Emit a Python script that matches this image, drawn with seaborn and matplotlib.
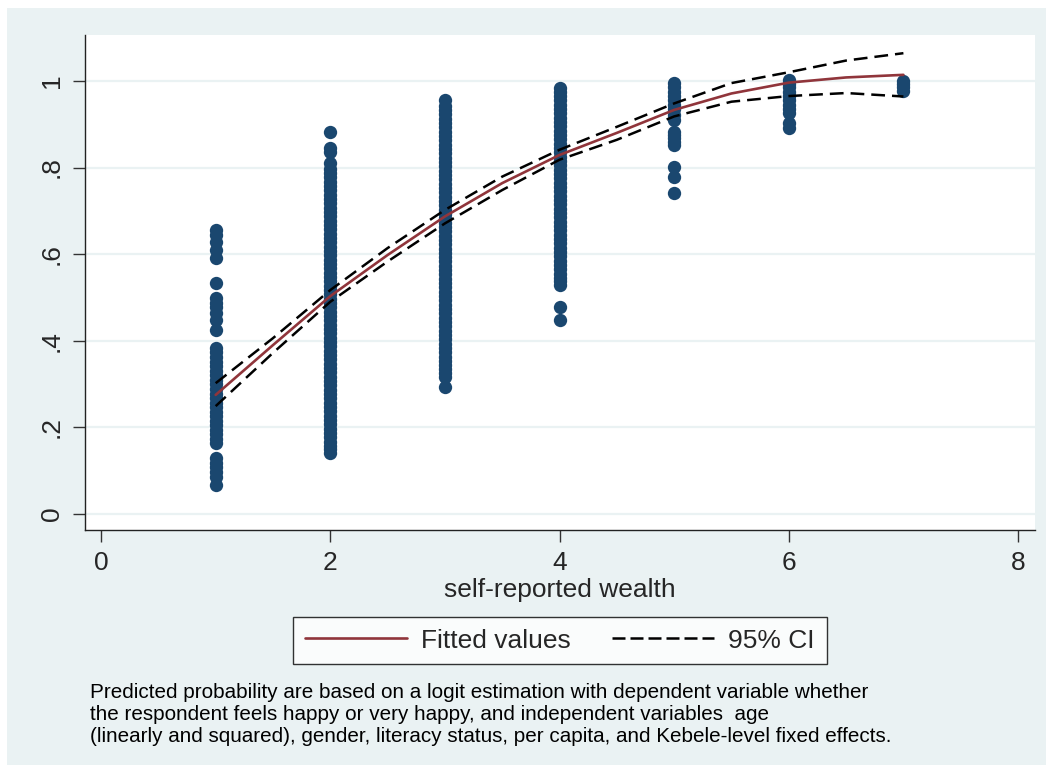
import matplotlib
matplotlib.use("Agg")
import matplotlib.pyplot as plt
from matplotlib.lines import Line2D
from matplotlib.patches import Rectangle
import seaborn as sns
import pandas as pd

# Predicted probability of feeling happy, by self-reported wealth level
wealth_1 = [0.656, 0.644, 0.629, 0.610, 0.591, 0.533, 0.499, 0.487, 0.479, 0.464,
            0.448, 0.425, 0.383, 0.373, 0.362, 0.352, 0.341, 0.331, 0.320, 0.310,
            0.299, 0.289, 0.278, 0.268, 0.257, 0.247, 0.236, 0.226, 0.215, 0.205,
            0.194, 0.184, 0.174, 0.164, 0.129, 0.118, 0.108, 0.097, 0.086, 0.067]
wealth_2 = [0.883, 0.845, 0.835, 0.810, 0.797, 0.787, 0.777, 0.767, 0.757, 0.747,
            0.737, 0.727, 0.717, 0.707, 0.697, 0.687, 0.677, 0.667, 0.657, 0.647,
            0.637, 0.627, 0.617, 0.607, 0.597, 0.587, 0.577, 0.567, 0.557, 0.547,
            0.537, 0.527, 0.517, 0.507, 0.497, 0.487, 0.477, 0.467, 0.457, 0.447,
            0.437, 0.427, 0.417, 0.407, 0.397, 0.387, 0.377, 0.367, 0.357, 0.347,
            0.337, 0.327, 0.317, 0.307, 0.297, 0.287, 0.277, 0.267, 0.257, 0.247,
            0.237, 0.227, 0.217, 0.207, 0.197, 0.187, 0.177, 0.167, 0.157, 0.149,
            0.141]
wealth_3 = [0.956, 0.943, 0.933, 0.923, 0.913, 0.903, 0.893, 0.883, 0.873, 0.863,
            0.853, 0.843, 0.833, 0.823, 0.813, 0.803, 0.793, 0.783, 0.773, 0.763,
            0.753, 0.743, 0.733, 0.723, 0.713, 0.703, 0.693, 0.683, 0.673, 0.663,
            0.653, 0.643, 0.633, 0.623, 0.613, 0.603, 0.593, 0.583, 0.573, 0.563,
            0.553, 0.543, 0.533, 0.523, 0.513, 0.503, 0.493, 0.483, 0.473, 0.463,
            0.453, 0.443, 0.433, 0.423, 0.413, 0.403, 0.393, 0.383, 0.373, 0.363,
            0.353, 0.343, 0.334, 0.325, 0.317, 0.294]
wealth_4 = [0.984, 0.975, 0.965, 0.955, 0.945, 0.935, 0.925, 0.915, 0.905, 0.895,
            0.885, 0.875, 0.865, 0.855, 0.845, 0.835, 0.825, 0.815, 0.805, 0.795,
            0.785, 0.775, 0.765, 0.755, 0.745, 0.735, 0.725, 0.715, 0.705, 0.695,
            0.685, 0.675, 0.665, 0.655, 0.645, 0.635, 0.625, 0.615, 0.605, 0.595,
            0.585, 0.575, 0.565, 0.555, 0.545, 0.537, 0.529, 0.478, 0.448]
wealth_5 = [0.995, 0.985, 0.975, 0.965, 0.955, 0.945, 0.935, 0.922, 0.910,
            0.883, 0.875, 0.868, 0.860, 0.852, 0.802, 0.779, 0.741]
wealth_6 = [1.002, 0.993, 0.985, 0.975, 0.965, 0.955, 0.945, 0.935, 0.926,
            0.903, 0.891]
wealth_7 = [1.000, 0.993, 0.985, 0.977]

# Fitted values with 95% confidence band
fit_x = [1, 1.5, 2, 2.5, 3, 3.5, 4, 4.5, 5, 5.5, 6, 6.5, 7]
fit_y = [0.275, 0.390, 0.503, 0.598, 0.687, 0.764, 0.829, 0.880, 0.933, 0.971, 0.996, 1.008, 1.014]
ci_upper = [0.302, 0.406, 0.517, 0.614, 0.702, 0.779, 0.841, 0.894, 0.948, 0.995, 1.020, 1.047, 1.064]
ci_lower = [0.249, 0.372, 0.490, 0.583, 0.671, 0.748, 0.818, 0.864, 0.918, 0.952, 0.965, 0.972, 0.964]

x_ticks = [0, 2, 4, 6, 8]
y_ticks = [0, 0.2, 0.4, 0.6, 0.8, 1.0]
y_tick_labels = ["0", ".2", ".4", ".6", ".8", "1"]

note_lines = [
    "Predicted probability are based on a logit estimation with dependent variable whether",
    "the respondent feels happy or very happy, and independent variables  age",
    "(linearly and squared), gender, literacy status, per capita, and Kebele-level fixed effects.",
]

groups = [wealth_1, wealth_2, wealth_3, wealth_4, wealth_5, wealth_6, wealth_7]
points = pd.DataFrame(
    [(lvl, v) for lvl, vals in enumerate(groups, start=1) for v in vals],
    columns=["wealth", "prob"],
)
fit = pd.DataFrame({"wealth": fit_x, "fit": fit_y, "lo": ci_lower, "hi": ci_upper})

NAVY = "#1A476F"
MAROON = "#90353B"
BG = "#EAF2F3"
DASH = (0, (5.5, 2.8))
FS = 19

sns.set_theme(style="white")
plt.rcParams["font.family"] = ["Liberation Sans", "DejaVu Sans"]

fig = plt.figure(figsize=(10.53, 7.72), dpi=100, facecolor="white")
fig.patches.append(Rectangle((7 / 1053, 1 - 765 / 772), 1039 / 1053, 757 / 772,
                             transform=fig.transFigure, facecolor=BG,
                             edgecolor="none", zorder=-10))

ax = fig.add_axes([85 / 1053, 1 - 530 / 772, 950 / 1053, 495 / 772])
ax.set_facecolor("white")

for y in y_ticks:
    ax.axhline(y, color=BG, lw=1.6, zorder=0)

sns.scatterplot(data=points, x="wealth", y="prob", ax=ax, color=NAVY,
                s=92, linewidth=0, alpha=1, zorder=2, legend=False)
sns.lineplot(data=fit, x="wealth", y="hi", ax=ax, color="black", lw=1.8,
             linestyle=DASH, zorder=3, legend=False)
sns.lineplot(data=fit, x="wealth", y="lo", ax=ax, color="black", lw=1.8,
             linestyle=DASH, zorder=3, legend=False)
sns.lineplot(data=fit, x="wealth", y="fit", ax=ax, color=MAROON, lw=1.9,
             zorder=4, legend=False)

ax.set_xlim(-0.14, 8.148)
ax.set_ylim(-0.037, 1.106)
ax.set_xticks(x_ticks)
ax.set_xticklabels([str(t) for t in x_ticks], fontsize=FS)
ax.set_yticks(y_ticks)
ax.set_yticklabels(y_tick_labels, fontsize=FS, rotation=90, va="center")
ax.tick_params(axis="both", direction="out", length=8.3, width=1.0,
               color="#333333", pad=7, left=True, bottom=True)
for side in ("top", "right"):
    ax.spines[side].set_visible(False)
for side in ("left", "bottom"):
    ax.spines[side].set_color("#222222")
    ax.spines[side].set_linewidth(1.0)

ax.set_xlabel("self-reported wealth", fontsize=FS, labelpad=2)
ax.set_ylabel("")

handles = [
    Line2D([], [], color=MAROON, lw=1.9),
    Line2D([], [], color="black", lw=1.8, linestyle=(0, (5.2, 2.0))),
]
leg = ax.legend(handles, ["Fitted values", "95% CI"], ncol=2, loc="center",
                bbox_to_anchor=(560 / 1053, 1 - 640.5 / 772),
                bbox_transform=fig.transFigure, fontsize=FS, frameon=True,
                fancybox=False, handlelength=3.85, handletextpad=0.55,
                columnspacing=1.55, borderpad=0.45)
leg.get_frame().set_edgecolor("black")
leg.get_frame().set_linewidth(1.0)
leg.get_frame().set_facecolor("white")

for i, line in enumerate(note_lines):
    fig.text(90 / 1053, 1 - (693 + 21.7 * i) / 772, line, fontsize=14.9,
             ha="left", va="center", color="black")

fig.savefig("out.png", dpi=100, facecolor="white")
